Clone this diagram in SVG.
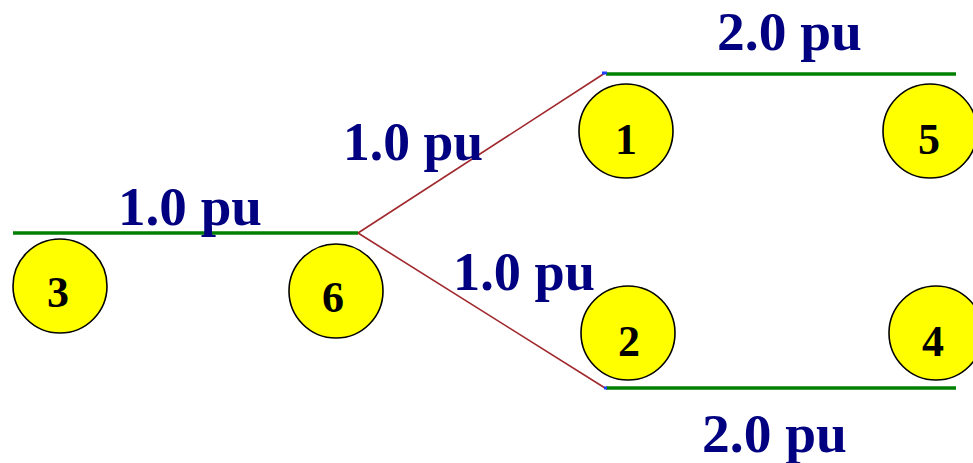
<svg xmlns="http://www.w3.org/2000/svg" width="973" height="463" viewBox="0 0 973 463">
<style>
.bus{stroke:#008000;stroke-width:3.5;fill:none}
.br{stroke:#a0282d;stroke-width:1.6;fill:none}
.tick{stroke:#2040ff;stroke-width:3;fill:none}
.nd circle{fill:#ffff00;stroke:#000;stroke-width:1.6}
.nd text{font-family:"Liberation Serif","Times New Roman",serif;font-weight:bold;font-size:44px;fill:#000;text-anchor:middle}
.lbl{font-family:"Liberation Serif","Times New Roman",serif;font-weight:bold;font-size:54px;fill:#000080}
</style>
<rect width="973" height="463" fill="#fff"/>
<g id="connectors">
<line class="bus" x1="13" y1="233" x2="358" y2="233"/>
<line class="br" x1="358" y1="233" x2="605" y2="73"/>
<line class="br" x1="358" y1="233" x2="605" y2="388"/>
<line class="bus" x1="606" y1="74" x2="956" y2="74"/>
<line class="bus" x1="606" y1="388" x2="956" y2="388"/>
<line class="tick" x1="602" y1="73" x2="607" y2="73"/>
<line class="tick" x1="604" y1="388" x2="607" y2="388"/>
</g>
<g id="node3" class="nd"><circle cx="60" cy="286" r="47"/><text x="58" y="307">3</text></g>
<g id="node6" class="nd"><circle cx="336" cy="291" r="47"/><text x="333" y="312">6</text></g>
<g id="node1" class="nd"><circle cx="626" cy="131" r="47"/><text x="626" y="154">1</text></g>
<g id="node5" class="nd"><circle cx="930" cy="131" r="47"/><text x="929" y="154">5</text></g>
<g id="node2" class="nd"><circle cx="628" cy="333" r="47"/><text x="629" y="356">2</text></g>
<g id="node4" class="nd"><circle cx="936" cy="333" r="47"/><text x="933" y="356">4</text></g>
<g id="labels">
<text class="lbl" x="118" y="225" textLength="144" lengthAdjust="spacingAndGlyphs">1.0 pu</text>
<text class="lbl" x="343" y="160" textLength="140" lengthAdjust="spacingAndGlyphs">1.0 pu</text>
<text class="lbl" x="453" y="290" textLength="142" lengthAdjust="spacingAndGlyphs">1.0 pu</text>
<text class="lbl" x="717" y="50" textLength="145" lengthAdjust="spacingAndGlyphs">2.0 pu</text>
<text class="lbl" x="702" y="452" textLength="145" lengthAdjust="spacingAndGlyphs">2.0 pu</text>
</g>
</svg>
